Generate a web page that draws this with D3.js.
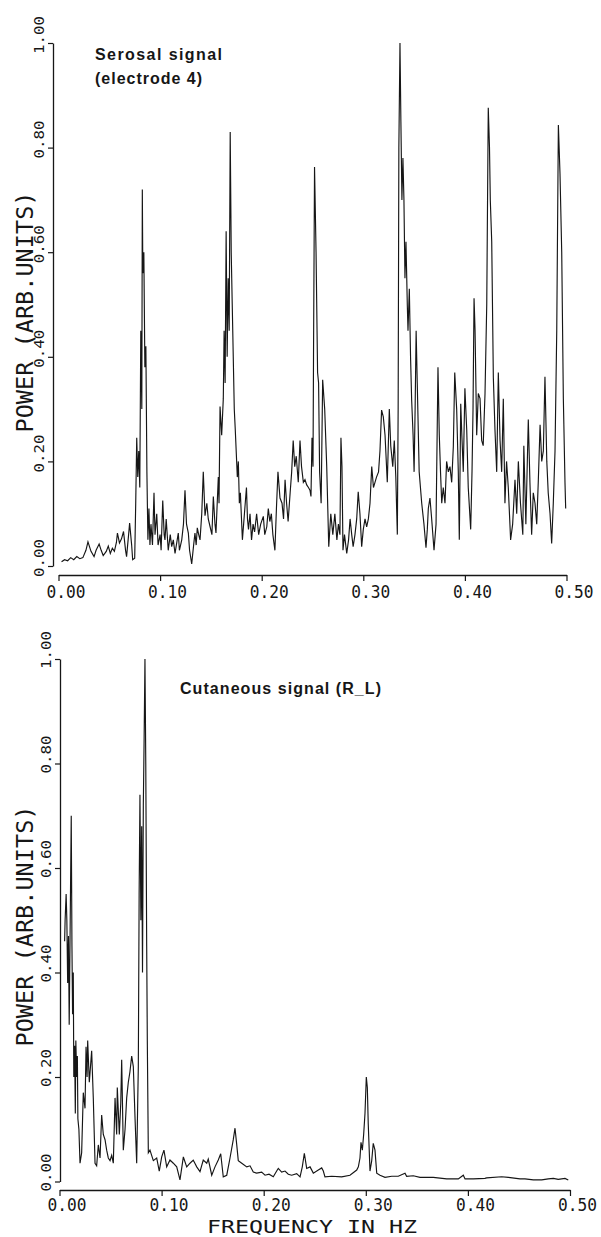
<!DOCTYPE html>
<html>
<head>
<meta charset="utf-8">
<script src="https://cdn.jsdelivr.net/npm/d3@7"></script>
<style>
  body { margin: 0; background: #fff; }
  svg { display: block; }
</style>
</head>
<body>
<div id="chart"></div>
<script>
// tick values shared by both panels
const xTicks = [0, 0.1, 0.2, 0.3, 0.4, 0.5];
const yTicks = [0, 0.2, 0.4, 0.6, 0.8, 1.0];

// Serosal signal (electrode 4): frequency (Hz) and power (arb. units)
const serosalFreq = [
  0.003, 0.006, 0.009, 0.012, 0.015, 0.018, 0.021, 0.024, 0.027, 0.029,
  0.032, 0.035, 0.037, 0.040, 0.042, 0.044, 0.047, 0.049, 0.051, 0.053,
  0.055, 0.057, 0.058, 0.060, 0.062, 0.064, 0.066, 0.067, 0.069, 0.070,
  0.072, 0.073, 0.075, 0.076, 0.077, 0.078, 0.079, 0.080, 0.081, 0.082,
  0.0825, 0.083, 0.084, 0.085, 0.086, 0.087, 0.088, 0.089, 0.090, 0.091,
  0.0925, 0.094, 0.095, 0.0967, 0.098, 0.100, 0.101, 0.1026, 0.104, 0.1048,
  0.106, 0.108, 0.110, 0.1114, 0.113, 0.1147, 0.116, 0.1179, 0.119, 0.1213,
  0.123, 0.1245, 0.126, 0.1278, 0.129, 0.1311, 0.133, 0.1343, 0.1355, 0.1366,
  0.138, 0.1393, 0.141, 0.1425, 0.1442, 0.146, 0.1474, 0.1491, 0.151, 0.1524,
  0.154, 0.155, 0.156, 0.1573, 0.158, 0.159, 0.1606, 0.1622, 0.163, 0.164,
  0.165, 0.166, 0.167, 0.168, 0.169, 0.170, 0.171, 0.172, 0.173, 0.174,
  0.176, 0.177, 0.178, 0.179, 0.181, 0.183, 0.185, 0.186, 0.187, 0.1885,
  0.190, 0.1915, 0.193, 0.195, 0.197, 0.199, 0.2016, 0.203, 0.205, 0.2065,
  0.208, 0.2095, 0.211, 0.213, 0.2145, 0.216, 0.218, 0.220, 0.2215, 0.223,
  0.2245, 0.226, 0.228, 0.2295, 0.231, 0.2325, 0.234, 0.236, 0.2377, 0.2392,
  0.241, 0.2426, 0.2443, 0.246, 0.2475, 0.2485, 0.2495, 0.2505, 0.251, 0.252,
  0.2535, 0.255, 0.256, 0.257, 0.2585, 0.260, 0.262, 0.264, 0.266, 0.268,
  0.270, 0.272, 0.274, 0.2755, 0.277, 0.278, 0.279, 0.280, 0.2815, 0.2837,
  0.2855, 0.287, 0.2886, 0.290, 0.2918, 0.2935, 0.295, 0.2967, 0.2984, 0.300,
  0.3017, 0.3033, 0.305, 0.3066, 0.3083, 0.310, 0.3115, 0.313, 0.315, 0.3164,
  0.318, 0.3197, 0.3214, 0.3236, 0.3256, 0.327, 0.329, 0.3305, 0.332, 0.3335,
  0.3343, 0.335, 0.3361, 0.337, 0.338, 0.339, 0.340, 0.341, 0.342, 0.3433,
  0.344, 0.3453, 0.3465, 0.3476, 0.349, 0.350, 0.351, 0.352, 0.3531, 0.355,
  0.3575, 0.3597, 0.3617, 0.363, 0.364, 0.3656, 0.3673, 0.3696, 0.3716, 0.3735,
  0.3748, 0.376, 0.3772, 0.3787, 0.3804, 0.382, 0.3837, 0.3853, 0.387, 0.3886,
  0.390, 0.3919, 0.3935, 0.3945, 0.3959, 0.397, 0.3984, 0.400, 0.4018, 0.4033,
  0.4057, 0.407, 0.408, 0.409, 0.410, 0.4116, 0.4132, 0.4149, 0.4165, 0.418,
  0.4198, 0.4215, 0.423, 0.4242, 0.425, 0.4264, 0.428, 0.4296, 0.4313, 0.4329,
  0.4346, 0.4362, 0.4378, 0.4394, 0.441, 0.4427, 0.445, 0.447, 0.4493, 0.451,
  0.4526, 0.4547, 0.457, 0.458, 0.460, 0.4624, 0.464, 0.4657, 0.4673, 0.469,
  0.4707, 0.4722, 0.474, 0.4756, 0.4772, 0.4788, 0.4806, 0.482, 0.4838, 0.4854,
  0.487, 0.4887, 0.4904, 0.492, 0.4936, 0.4953, 0.4969, 0.4985, 0.4992
];
const serosalPower = [
  0.008, 0.012, 0.010, 0.016, 0.012, 0.018, 0.014, 0.016, 0.030, 0.046,
  0.028, 0.018, 0.030, 0.042, 0.030, 0.020, 0.028, 0.038, 0.024, 0.034,
  0.028, 0.045, 0.063, 0.044, 0.052, 0.066, 0.030, 0.018, 0.060, 0.082,
  0.040, 0.012, 0.015, 0.120, 0.245, 0.170, 0.220, 0.150, 0.450, 0.300,
  0.720, 0.560, 0.600, 0.380, 0.420, 0.180, 0.050, 0.110, 0.040, 0.080,
  0.040, 0.140, 0.060, 0.100, 0.040, 0.060, 0.030, 0.125, 0.060, 0.050,
  0.090, 0.030, 0.060, 0.037, 0.050, 0.024, 0.040, 0.063, 0.030, 0.050,
  0.080, 0.145, 0.080, 0.063, 0.030, 0.004, 0.040, 0.063, 0.040, 0.073,
  0.060, 0.050, 0.100, 0.180, 0.096, 0.120, 0.090, 0.076, 0.060, 0.133,
  0.080, 0.063, 0.110, 0.170, 0.120, 0.305, 0.250, 0.320, 0.450, 0.350,
  0.640, 0.400, 0.550, 0.450, 0.830, 0.600, 0.500, 0.400, 0.300, 0.260,
  0.170, 0.200, 0.120, 0.140, 0.050, 0.100, 0.150, 0.090, 0.070, 0.100,
  0.050, 0.080, 0.065, 0.100, 0.060, 0.080, 0.095, 0.060, 0.075, 0.110,
  0.085, 0.100, 0.060, 0.030, 0.110, 0.180, 0.130, 0.120, 0.090, 0.165,
  0.120, 0.085, 0.140, 0.180, 0.240, 0.190, 0.210, 0.160, 0.240, 0.190,
  0.160, 0.165, 0.155, 0.150, 0.145, 0.133, 0.245, 0.190, 0.400, 0.763,
  0.600, 0.370, 0.350, 0.180, 0.120, 0.356, 0.300, 0.190, 0.037, 0.100,
  0.060, 0.100, 0.050, 0.080, 0.060, 0.245, 0.190, 0.030, 0.060, 0.024,
  0.050, 0.090, 0.060, 0.037, 0.060, 0.090, 0.142, 0.100, 0.037, 0.070,
  0.090, 0.075, 0.090, 0.120, 0.190, 0.150, 0.160, 0.170, 0.180, 0.220,
  0.298, 0.285, 0.250, 0.160, 0.300, 0.230, 0.190, 0.240, 0.170, 0.060,
  0.300, 0.800, 1.000, 0.850, 0.700, 0.780, 0.700, 0.550, 0.620, 0.500,
  0.450, 0.530, 0.400, 0.317, 0.250, 0.180, 0.300, 0.450, 0.350, 0.180,
  0.120, 0.080, 0.035, 0.070, 0.110, 0.130, 0.090, 0.030, 0.080, 0.380,
  0.250, 0.180, 0.120, 0.150, 0.120, 0.200, 0.180, 0.190, 0.160, 0.228,
  0.370, 0.300, 0.180, 0.050, 0.310, 0.250, 0.180, 0.340, 0.260, 0.150,
  0.070, 0.180, 0.300, 0.512, 0.450, 0.250, 0.330, 0.320, 0.240, 0.230,
  0.330, 0.500, 0.876, 0.800, 0.700, 0.620, 0.360, 0.260, 0.180, 0.370,
  0.240, 0.180, 0.320, 0.120, 0.200, 0.150, 0.050, 0.080, 0.165, 0.100,
  0.200, 0.120, 0.060, 0.230, 0.080, 0.280, 0.160, 0.060, 0.140, 0.120,
  0.080, 0.160, 0.270, 0.200, 0.220, 0.362, 0.200, 0.140, 0.100, 0.043,
  0.120, 0.220, 0.450, 0.843, 0.750, 0.600, 0.320, 0.160, 0.110
];

// Cutaneous signal (R_L): frequency (Hz) and power (arb. units)
const cutaneousFreq = [
  0.005, 0.0055, 0.0065, 0.0072, 0.0080, 0.0088, 0.0095, 0.0105, 0.0115, 0.0122,
  0.0128, 0.0135, 0.0140, 0.0148, 0.0155, 0.0160, 0.0168, 0.0175, 0.0180, 0.0190,
  0.0201, 0.0217, 0.0233, 0.0250, 0.0260, 0.0270, 0.0276, 0.0292, 0.0315, 0.0331,
  0.0348, 0.0364, 0.0380, 0.0397, 0.0413, 0.0429, 0.0446, 0.0462, 0.0478, 0.0495,
  0.0511, 0.0527, 0.0544, 0.0560, 0.0566, 0.0586, 0.0600, 0.0609, 0.0625, 0.0642,
  0.0658, 0.0674, 0.0690, 0.0707, 0.0723, 0.0740, 0.0756, 0.0772, 0.0780, 0.0788,
  0.0797, 0.0805, 0.0813, 0.0821, 0.0829, 0.0837, 0.0845, 0.0854, 0.0860, 0.0870,
  0.0886, 0.0919, 0.0952, 0.0977, 0.1001, 0.1023, 0.1050, 0.1082, 0.1115, 0.1148,
  0.1180, 0.1213, 0.1246, 0.1278, 0.1310, 0.1344, 0.1376, 0.1408, 0.1442, 0.1457,
  0.1491, 0.1523, 0.1555, 0.1579, 0.1604, 0.1638, 0.1670, 0.1702, 0.1719, 0.1736,
  0.1751, 0.1785, 0.1834, 0.1866, 0.1898, 0.1931, 0.1980, 0.2013, 0.2052, 0.2094,
  0.2127, 0.2143, 0.2176, 0.2209, 0.2241, 0.2274, 0.2323, 0.2356, 0.2378, 0.2398,
  0.2421, 0.2454, 0.2486, 0.2535, 0.2568, 0.2584, 0.2600, 0.2666, 0.2764, 0.2845,
  0.2911, 0.2927, 0.2943, 0.2953, 0.2966, 0.2979, 0.2992, 0.3005, 0.3015, 0.3024,
  0.3041, 0.3058, 0.3073, 0.3090, 0.3107, 0.3139, 0.3188, 0.3254, 0.3318, 0.3384,
  0.3400, 0.3465, 0.3531, 0.3661, 0.3792, 0.3906, 0.3955, 0.3972, 0.4053, 0.4167,
  0.4184, 0.4331, 0.4396, 0.4510, 0.4559, 0.4641, 0.4723, 0.4787, 0.4837, 0.4885,
  0.4951, 0.4983
];
const cutaneousPower = [
  0.460, 0.500, 0.550, 0.500, 0.380, 0.470, 0.300, 0.500, 0.700, 0.450,
  0.320, 0.400, 0.200, 0.260, 0.130, 0.270, 0.200, 0.240, 0.120, 0.100,
  0.035, 0.055, 0.170, 0.140, 0.258, 0.200, 0.270, 0.190, 0.250, 0.160,
  0.035, 0.030, 0.070, 0.045, 0.127, 0.090, 0.080, 0.060, 0.045, 0.040,
  0.050, 0.035, 0.160, 0.090, 0.180, 0.090, 0.150, 0.233, 0.060, 0.100,
  0.160, 0.190, 0.210, 0.240, 0.220, 0.120, 0.035, 0.220, 0.550, 0.740,
  0.500, 0.680, 0.400, 0.720, 0.850, 1.000, 0.800, 0.450, 0.270, 0.055,
  0.060, 0.040, 0.045, 0.020, 0.047, 0.060, 0.028, 0.041, 0.035, 0.028,
  0.003, 0.047, 0.028, 0.035, 0.041, 0.028, 0.019, 0.041, 0.035, 0.043,
  0.012, 0.028, 0.041, 0.053, 0.009, 0.012, 0.045, 0.080, 0.102, 0.070,
  0.040, 0.035, 0.028, 0.030, 0.018, 0.016, 0.018, 0.012, 0.014, 0.009,
  0.020, 0.025, 0.018, 0.020, 0.014, 0.012, 0.015, 0.009, 0.028, 0.054,
  0.025, 0.028, 0.016, 0.022, 0.026, 0.020, 0.009, 0.010, 0.009, 0.012,
  0.022, 0.028, 0.045, 0.075, 0.060, 0.090, 0.130, 0.200, 0.180, 0.110,
  0.020, 0.040, 0.073, 0.060, 0.016, 0.012, 0.008, 0.010, 0.010, 0.016,
  0.010, 0.011, 0.008, 0.008, 0.005, 0.005, 0.012, 0.005, 0.005, 0.006,
  0.007, 0.009, 0.008, 0.005, 0.005, 0.003, 0.003, 0.005, 0.006, 0.004,
  0.006, 0.003
];

const W = 601, H = 1237;
const ink = "#161616";
const mono = "'DejaVu Sans Mono', monospace";

const svg = d3.select("#chart").append("svg")
  .attr("width", W)
  .attr("height", H)
  .style("background", "#fff");

function drawPanel(p) {
  const x = d3.scaleLinear().domain([0, 0.5]).range(p.xRange);
  const y = d3.scaleLinear().domain([0, 1]).range(p.yRange);

  // y axis with rotated labels
  const ya = svg.append("g")
    .attr("transform", "translate(" + p.yAxisX + ",0)")
    .call(d3.axisLeft(y).tickValues(yTicks).tickSize(5).tickSizeOuter(0)
      .tickFormat(d3.format(".2f")));
  ya.select(".domain").attr("stroke", ink).attr("stroke-width", 1.3);
  ya.selectAll(".tick line").attr("stroke", ink).attr("stroke-width", 1.2);
  ya.selectAll(".tick text")
    .attr("x", 0)
    .attr("dy", 0)
    .attr("text-anchor", "start")
    .attr("transform", "translate(-9.5," + p.yLabelShift + ") rotate(-90)")
    .attr("textLength", 38)
    .attr("lengthAdjust", "spacingAndGlyphs")
    .style("font-family", mono)
    .style("font-size", "14.5px")
    .attr("fill", ink);

  // x axis, offset below the plot
  const xa = svg.append("g")
    .attr("transform", "translate(0," + p.xAxisY + ")")
    .call(d3.axisBottom(x).tickValues(xTicks).tickSize(6).tickSizeOuter(0)
      .tickFormat(d3.format(".2f")));
  xa.select(".domain").attr("stroke", ink).attr("stroke-width", 1.3);
  xa.selectAll(".tick line").attr("stroke", ink).attr("stroke-width", 1.2);
  xa.selectAll(".tick text")
    .attr("x", -12.5)
    .attr("y", p.xLabelY)
    .attr("dy", 0)
    .attr("text-anchor", "start")
    .attr("textLength", 39)
    .attr("lengthAdjust", "spacingAndGlyphs")
    .style("font-family", mono)
    .style("font-size", "18px")
    .attr("fill", ink);

  // y title
  svg.append("text")
    .attr("transform", "translate(33," + p.yTitleY + ") rotate(-90)")
    .attr("text-anchor", "middle")
    .attr("textLength", 241)
    .attr("lengthAdjust", "spacingAndGlyphs")
    .style("font-family", mono)
    .style("font-size", "23px")
    .attr("fill", ink)
    .text("POWER (ARB.UNITS)");

  // spectrum
  const pts = p.freq.map((f, i) => [f, p.power[i]]);
  svg.append("path")
    .datum(pts)
    .attr("fill", "none")
    .attr("stroke", ink)
    .attr("stroke-width", 1.15)
    .attr("stroke-linejoin", "miter")
    .attr("d", d3.line().x((d) => x(d[0])).y((d) => y(d[1])));

  // annotation
  p.notes.forEach((n) => {
    svg.append("text")
      .attr("x", n.x)
      .attr("y", n.y)
      .attr("textLength", n.len)
      .attr("lengthAdjust", "spacing")
      .style("font-family", "'Liberation Sans', Arial, sans-serif")
      .style("font-size", "16px")
      .style("font-weight", "bold")
      .attr("fill", ink)
      .text(n.text);
  });
}

drawPanel({
  freq: serosalFreq,
  power: serosalPower,
  xRange: [58.5, 566.5],
  yRange: [566, 43],
  yAxisX: 53,
  xAxisY: 575,
  xLabelY: 22.5,
  yLabelShift: 10.5,
  yTitleY: 312,
  notes: [
    { text: "Serosal signal", x: 95, y: 60, len: 127 },
    { text: "(electrode 4)", x: 95, y: 84, len: 107 }
  ]
});

drawPanel({
  freq: cutaneousFreq,
  power: cutaneousPower,
  xRange: [59.5, 570],
  yRange: [1181.5, 659],
  yAxisX: 60,
  xAxisY: 1190,
  xLabelY: 21,
  yLabelShift: 9.5,
  yTitleY: 926,
  notes: [
    { text: "Cutaneous signal (R_L)", x: 180, y: 694, len: 201 }
  ]
});

// x title (bottom panel only)
svg.append("text")
  .attr("x", 207)
  .attr("y", 1232.5)
  .attr("textLength", 210)
  .attr("lengthAdjust", "spacingAndGlyphs")
  .style("font-family", mono)
  .style("font-size", "18px")
  .attr("fill", ink)
  .text("FREQUENCY IN HZ");
</script>
</body>
</html>
